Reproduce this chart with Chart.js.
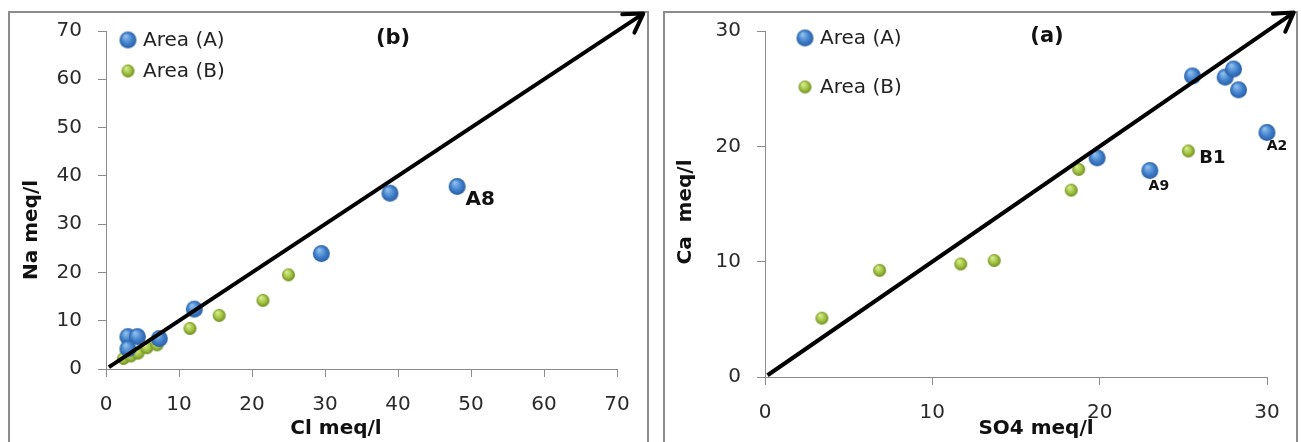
<!DOCTYPE html>
<html>
<head>
<meta charset="utf-8">
<script src="https://cdn.jsdelivr.net/npm/chart.js@4.4.1/dist/chart.umd.min.js"></script>
<style>
  body { margin: 0; background: #fff; width: 1301px; height: 442px; overflow: hidden; position: relative; }
  .frame { position: absolute; top: 11px; height: 470px; border: 2px solid #8c8c8c; box-sizing: border-box; }
  canvas { position: absolute; top: 0; }
</style>
</head>
<body>
<div class="frame" style="left:8px;width:641px"></div>
<div class="frame" style="left:663px;width:635px"></div>
<canvas id="chartB" width="655" height="442" style="left:0"></canvas>
<canvas id="chartA" width="646" height="442" style="left:655px"></canvas>

<script>
// Panel (b): Na vs Cl
var clA = [3.0, 4.3, 3.0, 7.3, 12.1, 29.5, 38.9, 48.1];
var naA = [6.7, 6.7, 4.2, 6.3, 12.4, 23.9, 36.4, 37.8];
var tagsClA = ['', '', '', '', '', '', '', 'A8'];
var clB = [2.4, 3.4, 4.4, 5.6, 7.0, 11.5, 15.5, 21.5, 25.0];
var naB = [2.2, 2.7, 3.3, 4.4, 5.0, 8.4, 11.1, 14.2, 19.5];
var tagsClB = ['', '', '', '', '', '', '', '', ''];
var clTicks = [0, 10, 20, 30, 40, 50, 60, 70];
var naTicks = [0, 10, 20, 30, 40, 50, 60, 70];
var arrowB = [0.4, 73.6];

// Panel (a): Ca vs SO4
var so4A = [19.85, 23.0, 25.55, 27.5, 28.0, 28.3, 30.0];
var caA = [19.0, 17.9, 26.1, 26.0, 26.7, 24.9, 21.2];
var tagsSo4A = ['', 'A9', '', '', '', '', 'A2'];
var so4B = [3.4, 6.85, 11.7, 13.7, 18.3, 18.75, 25.3];
var caB = [5.1, 9.25, 9.8, 10.1, 16.2, 18.0, 19.6];
var tagsSo4B = ['', '', '', '', '', '', 'B1'];
var so4Ticks = [0, 10, 20, 30];
var caTicks = [0, 10, 20, 30];
var arrowA = [0.15, 31.6];

var seriesNames = ['Area (A)', 'Area (B)'];

var FONT = '"DejaVu Sans", "Liberation Sans", sans-serif';

// small shaded ball used as the marker
function sphere(r, light, base, dark) {
  var c = document.createElement('canvas');
  var s = Math.ceil(r * 2 + 2);
  c.width = s; c.height = s;
  var g = c.getContext('2d');
  var cx = s / 2, cy = s / 2;
  var grad = g.createRadialGradient(cx - r * 0.3, cy - r * 0.45, r * 0.1, cx, cy, r);
  grad.addColorStop(0, light);
  grad.addColorStop(0.6, base);
  grad.addColorStop(1, dark);
  g.fillStyle = grad;
  g.beginPath();
  g.arc(cx, cy, r, 0, Math.PI * 2);
  g.fill();
  return c;
}

var blueBall = sphere(8.5, '#8dbdec', '#3f7fcb', '#2b5fa3');
var greenBall = sphere(6.5, '#d6ec8a', '#a0c040', '#6d8c20');

function toPoints(xs, ys) {
  return xs.map(function(x, i) { return { x: x, y: ys[i] }; });
}

// draws arrow head, legend, panel letter, axis titles and point tags
var extras = {
  id: 'extras',
  afterDatasetsDraw: function(chart, args, opts) {
    var ctx = chart.ctx;
    var pts = chart.getDatasetMeta(0).data;
    var p0 = pts[0], p1 = pts[1];
    var ang = Math.atan2(p1.y - p0.y, p1.x - p0.x);
    var L = 21, a = 0.55;
    ctx.save();
    ctx.strokeStyle = '#000';
    ctx.lineWidth = 4;
    ctx.lineCap = 'round';
    ctx.lineJoin = 'round';
    ctx.beginPath();
    ctx.moveTo(p1.x - L * Math.cos(ang - a), p1.y - L * Math.sin(ang - a));
    ctx.lineTo(p1.x, p1.y);
    ctx.lineTo(p1.x - L * Math.cos(ang + a), p1.y - L * Math.sin(ang + a));
    ctx.stroke();
    ctx.restore();
  },
  afterDraw: function(chart, args, opts) {
    var ctx = chart.ctx;
    ctx.save();
    ctx.fillStyle = '#111';
    ctx.textBaseline = 'middle';

    // point tags
    [1, 2].forEach(function(di) {
      var ds = chart.data.datasets[di];
      chart.getDatasetMeta(di).data.forEach(function(el, i) {
        var t = ds.tags[i];
        if (!t) return;
        var st = opts.tagStyle[t];
        ctx.font = 'bold ' + st.size + 'px ' + FONT;
        ctx.textAlign = 'center';
        ctx.fillText(t, el.x + st.dx, el.y + st.dy);
      });
    });

    // legend
    var lg = opts.legend;
    ctx.font = '20px ' + FONT;
    ctx.textAlign = 'left';
    ctx.fillStyle = '#222';
    [blueBall, greenBall].forEach(function(img, i) {
      var y = lg.y[i];
      ctx.drawImage(img, lg.x - img.width / 2, y - img.height / 2);
      ctx.fillText(seriesNames[i], lg.x + 15, y + 1);
    });

    // panel letter
    ctx.fillStyle = '#111';
    ctx.font = 'bold 21px ' + FONT;
    ctx.textAlign = 'center';
    ctx.fillText(opts.letter.text, opts.letter.x, opts.letter.y);

    // axis titles
    ctx.font = 'bold 20px ' + FONT;
    ctx.fillText(opts.xTitle.text, opts.xTitle.x, opts.xTitle.y);
    ctx.translate(opts.yTitle.x, opts.yTitle.y);
    ctx.rotate(-Math.PI / 2);
    ctx.fillText(opts.yTitle.text, 0, 0);
    ctx.restore();
  }
};

function axis(ticks, fitFn) {
  return {
    type: 'linear',
    min: ticks[0],
    max: ticks[ticks.length - 1],
    afterBuildTicks: function(s) { s.ticks = ticks.map(function(v) { return { value: v }; }); },
    ticks: { padding: 16, color: '#2a2a2a', font: { family: FONT, size: 20 } },
    grid: { drawOnChartArea: false, drawTicks: true, tickLength: 8, color: '#8c8c8c' },
    border: { color: '#8c8c8c', width: 1 },
    afterFit: fitFn
  };
}

function makeChart(id, arrow, xA, yA, tA, xB, yB, tB, xTicks, yTicks, pad, yWidth, xHeight, extraOpts) {
  return new Chart(document.getElementById(id), {
    type: 'scatter',
    data: {
      datasets: [
        {
          data: toPoints(arrow, arrow),
          showLine: true,
          borderColor: '#000',
          borderWidth: 4,
          pointRadius: 0,
          clip: false
        },
        {
          label: seriesNames[0],
          data: toPoints(xA, yA),
          tags: tA,
          pointStyle: blueBall,
          pointRadius: 8,
          clip: false
        },
        {
          label: seriesNames[1],
          data: toPoints(xB, yB),
          tags: tB,
          pointStyle: greenBall,
          pointRadius: 6,
          clip: false
        }
      ]
    },
    options: {
      responsive: false,
      animation: false,
      events: [],
      layout: { padding: pad },
      plugins: { legend: { display: false }, tooltip: { enabled: false }, extras: extraOpts },
      scales: {
        x: axis(xTicks, function(s) { s.height = xHeight; }),
        y: axis(yTicks, function(s) { s.width = yWidth; })
      }
    },
    plugins: [extras]
  });
}

makeChart('chartB', arrowB, clA, naA, tagsClA, clB, naB, tagsClB, clTicks, naTicks,
  { left: 0, right: 38, top: 31, bottom: 0 }, 106, 73, {
    legend: { x: 128, y: [40, 71] },
    letter: { text: '(b)', x: 393, y: 39 },
    xTitle: { text: 'Cl meq/l', x: 336, y: 429 },
    yTitle: { text: 'Na meq/l', x: 32, y: 230 },
    tagStyle: { A8: { size: 20, dx: 23, dy: 13 } }
  });

makeChart('chartA', arrowA, so4A, caA, tagsSo4A, so4B, caB, tagsSo4B, so4Ticks, caTicks,
  { left: 0, right: 34, top: 31, bottom: 0 }, 110, 65, {
    legend: { x: 150, y: [38, 87] },
    letter: { text: '(a)', x: 392, y: 37 },
    xTitle: { text: 'SO4 meq/l', x: 381, y: 429 },
    yTitle: { text: 'Ca  meq/l', x: 31, y: 212 },
    tagStyle: {
      A9: { size: 14, dx: 9, dy: 16 },
      A2: { size: 14, dx: 10, dy: 14 },
      B1: { size: 18, dx: 24, dy: 7 }
    }
  });
</script>
</body>
</html>
